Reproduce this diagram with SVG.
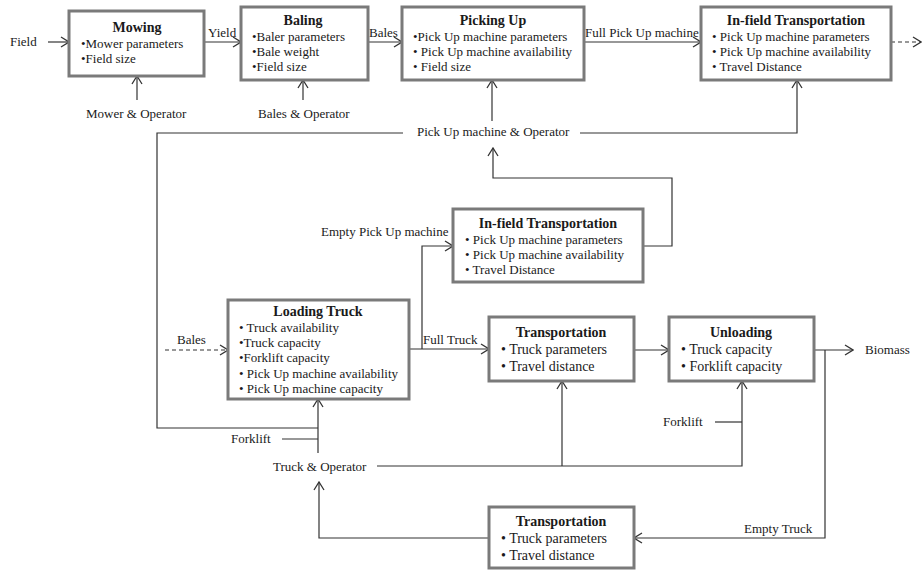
<svg xmlns="http://www.w3.org/2000/svg" width="923" height="570" viewBox="0 0 923 570">
<defs>
<style>
.box{fill:#fff;stroke:#7a7a7a;stroke-width:3}
.ln{fill:none;stroke:#333;stroke-width:1.2}
.ar{marker-end:url(#arr)}
.dash{stroke-dasharray:4,3}
text{font-family:"Liberation Serif","Times New Roman",serif;fill:#1a1a1a}
.t{font-size:14px;font-weight:bold;text-anchor:middle}
.i{font-size:13px}
.j{font-size:14px}
.l{font-size:13px}
</style>
<marker id="arr" viewBox="0 0 10 12" refX="9" refY="6" markerWidth="10" markerHeight="12" markerUnits="userSpaceOnUse" orient="auto">
<path d="M1,1 L9,6 L1,11" fill="none" stroke="#333" stroke-width="1.3"/>
</marker>
</defs>
<rect width="923" height="570" fill="#fff"/>

<g id="connectors">
<path class="ln ar" d="M48,42 H69"/>
<path class="ln ar" d="M204,42 H241"/>
<path class="ln ar" d="M368,42 H402"/>
<path class="ln ar" d="M584,42 H701"/>
<path class="ln ar dash" d="M891,42 H921"/>
<path class="ln ar" d="M137,100 V76"/>
<path class="ln ar" d="M303,100 V80"/>
<path class="ln ar" d="M492,121 V80"/>
<path class="ln" d="M403,133 H157 V428 H318"/>
<path class="ln ar" d="M580,133 H797 V80"/>
<path class="ln ar" d="M643,246 H672 V178 H493 V148"/>
<path class="ln ar" d="M409,349 H489"/>
<path class="ln ar" d="M422,349 V246 H453"/>
<path class="ln ar dash" d="M165,350 H228"/>
<path class="ln ar" d="M634,350 H669"/>
<path class="ln ar" d="M814,350 H853"/>
<path class="ln ar" d="M825,350 V538 H634"/>
<path class="ln ar" d="M489,538 H319 V482"/>
<path class="ln ar" d="M377,466 H742 V381"/>
<path class="ln ar" d="M562,466 V381"/>
<path class="ln" d="M282,439 H318"/>
<path class="ln ar" d="M318,453 V399"/>
<path class="ln" d="M715,422 H742"/>
</g>

<g id="labels">
<text class="l" x="10" y="46">Field</text>
<text class="l" x="208" y="37">Yield</text>
<text class="l" x="369" y="37">Bales</text>
<text class="l" x="585" y="37">Full Pick Up machine</text>
<text class="l" x="86" y="118">Mower &amp; Operator</text>
<text class="l" x="258" y="118">Bales &amp; Operator</text>
<text class="l" x="417" y="136">Pick Up machine &amp; Operator</text>
<text class="l" x="321" y="236">Empty Pick Up machine</text>
<text class="l" x="177" y="344">Bales</text>
<text class="l" x="423" y="344">Full Truck</text>
<text class="l" x="865" y="354">Biomass</text>
<text class="l" x="663" y="426">Forklift</text>
<text class="l" x="231" y="443">Forklift</text>
<text class="l" x="273" y="471">Truck &amp; Operator</text>
<text class="l" x="744" y="533">Empty Truck</text>
</g>

<g id="mowing">
<rect class="box" x="69" y="11" width="135" height="65"/>
<text class="t" x="137" y="32">Mowing</text>
<text class="i" x="81" y="48">•Mower parameters</text>
<text class="i" x="81" y="63">•Field size</text>
</g>

<g id="baling">
<rect class="box" x="241" y="7" width="127" height="73"/>
<text class="t" x="303" y="25">Baling</text>
<text class="i" x="252" y="41">•Baler parameters</text>
<text class="i" x="252" y="56">•Bale weight</text>
<text class="i" x="252" y="71">•Field size</text>
</g>

<g id="picking-up">
<rect class="box" x="402" y="7" width="182" height="73"/>
<text class="t" x="493" y="25">Picking Up</text>
<text class="i" x="413" y="41">•Pick Up machine parameters</text>
<text class="i" x="413" y="56">• Pick Up machine availability</text>
<text class="i" x="413" y="71">• Field size</text>
</g>

<g id="infield-top">
<rect class="box" x="701" y="7" width="190" height="73"/>
<text class="t" x="796" y="25">In-field Transportation</text>
<text class="i" x="712" y="41">• Pick Up machine parameters</text>
<text class="i" x="712" y="56">• Pick Up machine availability</text>
<text class="i" x="712" y="71">• Travel Distance</text>
</g>

<g id="infield-lower">
<rect class="box" x="453" y="209" width="190" height="73"/>
<text class="t" x="548" y="228">In-field Transportation</text>
<text class="i" x="465" y="244">• Pick Up machine parameters</text>
<text class="i" x="465" y="259">• Pick Up machine availability</text>
<text class="i" x="465" y="274">• Travel Distance</text>
</g>

<g id="loading-truck">
<rect class="box" x="228" y="300" width="181" height="99"/>
<text class="t" x="318" y="316">Loading Truck</text>
<text class="i" x="239" y="332">• Truck availability</text>
<text class="i" x="239" y="347">•Truck capacity</text>
<text class="i" x="239" y="362">•Forklift capacity</text>
<text class="i" x="239" y="378">• Pick Up machine availability</text>
<text class="i" x="239" y="393">• Pick Up machine capacity</text>
</g>

<g id="transportation">
<rect class="box" x="489" y="317" width="145" height="64"/>
<text class="t" x="561" y="337">Transportation</text>
<text class="j" x="501" y="354">• Truck parameters</text>
<text class="j" x="501" y="371">• Travel distance</text>
</g>

<g id="unloading">
<rect class="box" x="669" y="317" width="145" height="64"/>
<text class="t" x="741" y="337">Unloading</text>
<text class="j" x="681" y="354">• Truck capacity</text>
<text class="j" x="681" y="371">• Forklift capacity</text>
</g>

<g id="transportation-return">
<rect class="box" x="489" y="507" width="145" height="61"/>
<text class="t" x="561" y="526">Transportation</text>
<text class="j" x="501" y="543">• Truck parameters</text>
<text class="j" x="501" y="560">• Travel distance</text>
</g>
</svg>
